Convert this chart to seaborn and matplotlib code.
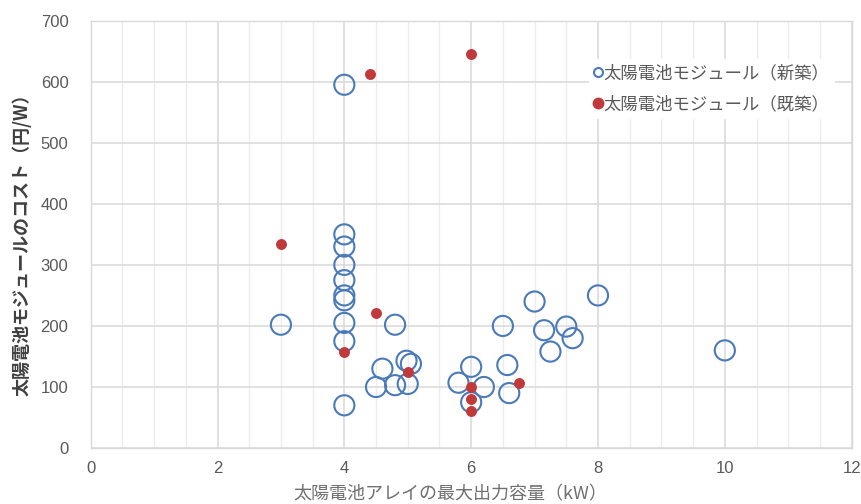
import matplotlib
matplotlib.use("Agg")
import matplotlib.pyplot as plt
from matplotlib.lines import Line2D
from matplotlib.ticker import MultipleLocator
import seaborn as sns
import pandas as pd

# 太陽電池モジュール（新築）
new_x = [4, 4, 4, 4, 4, 4, 4, 4, 4, 4,
         3.0, 4.8, 4.6, 4.5, 4.8, 5.0, 4.98, 5.05,
         7.0, 8.0, 6.5, 7.15, 7.5, 7.6, 7.25, 6.0, 6.57, 5.8, 6.2, 6.0, 6.6, 10.0]
new_y = [595, 350, 330, 300, 275, 250, 242, 205, 175, 70,
         202, 202, 130, 100, 103, 105, 143, 138,
         240, 250, 200, 193, 199, 180, 158, 133, 136, 107, 100, 75, 90, 160]

# 太陽電池モジュール（既築）
old_x = [3.0, 4.4, 6.0, 4.5, 4.0, 5.0, 6.0, 6.0, 6.0, 6.75]
old_y = [334, 613, 645, 222, 157, 125, 100, 81, 60, 106]

label_new = "太陽電池モジュール（新築）"
label_old = "太陽電池モジュール（既築）"
xlabel = "太陽電池アレイの最大出力容量（kW）"
ylabel = "太陽電池モジュールのコスト（円/W）"

sns.set_theme(style="white")
plt.rcParams['font.family'] = ['Noto Sans CJK JP', 'DejaVu Sans']

df_new = pd.DataFrame({"x": new_x, "y": new_y})
df_old = pd.DataFrame({"x": old_x, "y": old_y})

fig = plt.figure(figsize=(8.62, 5.04), dpi=100)
ax = fig.add_axes([0.1052, 0.111, 0.8828, 0.848])

blue = "#4a7ab8"
red = "#c0393b"

sns.scatterplot(data=df_new, x="x", y="y", ax=ax, s=210, facecolor="none",
                edgecolor=blue, linewidth=1.5, zorder=3)
sns.scatterplot(data=df_old, x="x", y="y", ax=ax, s=62, color=red,
                edgecolor=red, linewidth=0, zorder=4)

ax.set_xlim(0, 12)
ax.set_ylim(0, 700)
ax.xaxis.set_major_locator(MultipleLocator(2))
ax.xaxis.set_minor_locator(MultipleLocator(0.5))
ax.yaxis.set_major_locator(MultipleLocator(100))
ax.grid(which="major", axis="both", color="#d9d9d9", linewidth=1.1, zorder=0)
ax.grid(which="minor", axis="x", color="#ececec", linewidth=1.0, zorder=0)
ax.set_axisbelow(True)
for sp in ax.spines.values():
    sp.set_color("#d9d9d9")
    sp.set_linewidth(1.0)

ax.tick_params(axis="both", which="both", length=0, labelsize=12, labelcolor="#595959")
ax.tick_params(axis="y", pad=16)
ax.tick_params(axis="x", pad=9)
for lab in ax.get_xticklabels() + ax.get_yticklabels():
    lab.set_family(["Liberation Sans", "DejaVu Sans"])

ax.set_xlabel(xlabel, fontsize=13, color="#707070")
ax.xaxis.set_label_coords(0.472, -0.088)
ax.set_ylabel(ylabel, fontsize=13, color="#404040", fontweight="bold")
ax.yaxis.set_label_coords(-0.077, 0.486)

handles = [
    Line2D([0], [0], marker="o", linestyle="none", markersize=6.5, markerfacecolor="none",
           markeredgecolor=blue, markeredgewidth=1.5, label=label_new),
    Line2D([0], [0], marker="o", linestyle="none", markersize=7.5, markerfacecolor=red,
           markeredgecolor=red, label=label_old),
]
leg = ax.legend(handles=handles, loc="upper left", bbox_to_anchor=(0.643, 0.93),
                frameon=True, fontsize=12.5, handlelength=0.5, handletextpad=0.05,
                labelspacing=0.75, borderpad=0.3, framealpha=1.0, edgecolor="white")
for t in leg.get_texts():
    t.set_color("#595959")
leg.get_frame().set_linewidth(0)

fig.savefig("out.png", dpi=100)
